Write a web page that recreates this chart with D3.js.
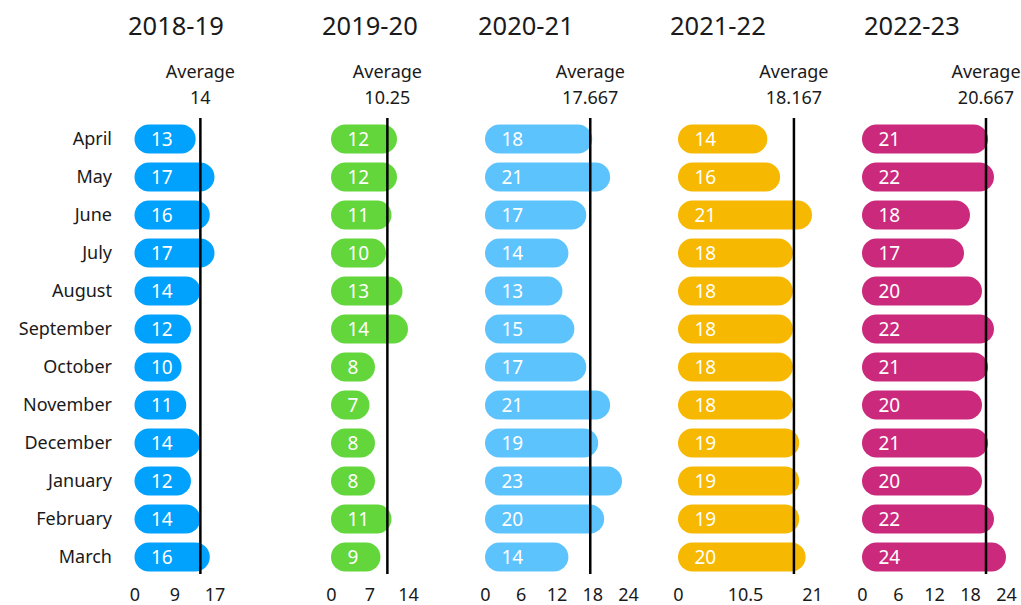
<!DOCTYPE html>
<html>
<head>
<meta charset="utf-8">
<script src="https://cdn.jsdelivr.net/npm/d3@7"></script>
<style>
  body { margin: 0; background: #fff; }
  svg { font-family: "Noto Sans", sans-serif; }
  .domain { display: none; }
</style>
</head>
<body>
<div id="root"></div>
<script>
// data
const seasons = ['2018-19', '2019-20', '2020-21', '2021-22', '2022-23'];
const months = ['April', 'May', 'June', 'July', 'August', 'September', 'October',
                'November', 'December', 'January', 'February', 'March'];
const v1819 = [13, 17, 16, 17, 14, 12, 10, 11, 14, 12, 14, 16];
const v1920 = [12, 12, 11, 10, 13, 14, 8, 7, 8, 8, 11, 9];
const v2021 = [18, 21, 17, 14, 13, 15, 17, 21, 19, 23, 20, 14];
const v2122 = [14, 16, 21, 18, 18, 18, 18, 18, 19, 19, 19, 20];
const v2223 = [21, 22, 18, 17, 20, 22, 21, 20, 21, 20, 22, 24];
const averages = [14, 10.25, 17.667, 18.167, 20.667];
const avgLabels = ['14', '10.25', '17.667', '18.167', '20.667'];
const axisMax = [17, 14, 24, 21, 24];
const tickVals = [[0, 8.5, 17], [0, 7, 14], [0, 6, 12, 18, 24], [0, 10.5, 21], [0, 6, 12, 18, 24]];
const tickLabels = [['0', '9', '17'], ['0', '7', '14'], ['0', '6', '12', '18', '24'],
                    ['0', '10.5', '21'], ['0', '6', '12', '18', '24']];
const series = [v1819, v1920, v2021, v2122, v2223];

// layout
const width = 1021, height = 605;
const colors = ['#00a2fd', '#62d63b', '#5cc3fd', '#f7b801', '#cb2a7c'];
const panelLeft = [134.5, 331, 485, 678, 862];
const panelWidth = [80, 77, 143, 134, 144];
const titleX = [128, 322, 478, 670, 864];

const svg = d3.select('#root').append('svg')
              .attr('width', width)
              .attr('height', height);

const y = d3.scaleBand()
            .domain(months)
            .range([120, 576])
            .paddingInner(0.24)
            .paddingOuter(0.12);

// month labels
svg.append('g')
   .selectAll('text')
   .data(months).enter()
   .append('text')
   .attr('x', 112)
   .attr('y', d => y(d) + y.bandwidth() / 2)
   .attr('dy', '0.35em')
   .attr('text-anchor', 'end')
   .style('font-size', '18px')
   .attr('fill', '#1a1a1a')
   .text(d => d);

seasons.forEach((s, k) => {
  const x = d3.scaleLinear()
              .domain([0, axisMax[k]])
              .range([panelLeft[k], panelLeft[k] + panelWidth[k]]);
  const g = svg.append('g');

  g.append('text')
   .attr('x', titleX[k])
   .attr('y', 35)
   .style('font-size', '25.5px')
   .attr('fill', '#1a1a1a')
   .text(s);

  const avg = g.append('text')
               .attr('x', x(averages[k]))
               .attr('text-anchor', 'middle')
               .style('font-size', '18px')
               .attr('fill', '#1a1a1a');
  avg.append('tspan').attr('x', x(averages[k])).attr('y', 78).text('Average');
  avg.append('tspan').attr('x', x(averages[k])).attr('y', 104).text(avgLabels[k]);

  const h = y.bandwidth();
  g.selectAll('rect')
   .data(series[k]).enter()
   .append('rect')
   .attr('x', x(0))
   .attr('y', (d, i) => y(months[i]))
   .attr('width', d => x(d) - x(0))
   .attr('height', h)
   .attr('rx', h / 2)
   .attr('fill', colors[k]);

  g.selectAll('text.val')
   .data(series[k]).enter()
   .append('text')
   .attr('class', 'val')
   .attr('x', x(0) + 16.5)
   .attr('y', (d, i) => y(months[i]) + h / 2)
   .attr('dy', '0.36em')
   .style('font-size', '19px')
   .attr('fill', '#fff')
   .text(d => d);

  g.append('line')
   .attr('x1', x(averages[k])).attr('x2', x(averages[k]))
   .attr('y1', 118).attr('y2', 574)
   .attr('stroke', '#000')
   .attr('stroke-width', 2.5);

  g.append('g')
   .attr('transform', 'translate(0,588)')
   .call(d3.axisBottom(x)
           .tickValues(tickVals[k])
           .tickSize(0)
           .tickPadding(0)
           .tickFormat((d, i) => tickLabels[k][i]))
   .call(a => a.selectAll('text')
               .attr('dy', '0.71em')
               .style('font-size', '18px')
               .style('font-family', '"Noto Sans", sans-serif')
               .attr('fill', '#1a1a1a'));
});
</script>
</body>
</html>
